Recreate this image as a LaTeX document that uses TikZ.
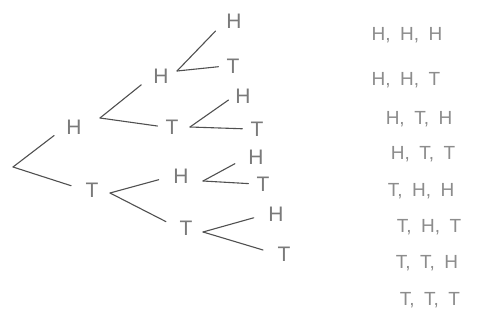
\documentclass[tikz,border=0pt]{standalone}
\usepackage{fontspec}
\setmainfont{Liberation Sans}
\usepackage{xcolor}
\usepackage{tikz}
\definecolor{pencildark}{RGB}{80, 80, 80}
\definecolor{pencilmid}{RGB}{122, 122, 122}
\definecolor{pencillight}{RGB}{140, 140, 140}
\tikzset{
  flip/.style={inner sep=1pt,text=pencilmid,font=\fontsize{21}{25}\selectfont},
  outc/.style={inner sep=1pt,text depth=0pt,text=pencillight,
               font=\fontsize{19}{23}\selectfont},
  branch/.style={draw=pencildark,line width=1.1pt,line cap=round,shorten >=14pt},
  near/.style={shorten >=7pt},
}

\begin{document}
\begin{tikzpicture}[x=1pt,y=-1pt]
        \useasboundingbox (0,0) rectangle (490,329);
        % forks
        \coordinate (root) at (13,167);
        \coordinate (fH)   at (100,118);
        \coordinate (fT)   at (110,193);
        \coordinate (fHH)  at (177,71);
        \coordinate (fHT)  at (190,127);
        \coordinate (fTH)  at (203,181);
        \coordinate (fTT)  at (203,232);
        % first flip
        \node[flip] (h) at (74,127) {H};
        \node[flip] (t) at (92,190) {T};
        % second flip
        \node[flip] (hh) at (161,76) {H};
        \node[flip] (ht) at (172,127) {T};
        \node[flip] (th) at (181,176) {H};
        \node[flip] (tt) at (186,228) {T};
        % third flip
        \node[flip] (hhh) at (234,21)  {H};
        \node[flip] (hht) at (233,66)  {T};
        \node[flip] (hth) at (243,96)  {H};
        \node[flip] (htt) at (257,129) {T};
        \node[flip] (thh) at (256,157) {H};
        \node[flip] (tht) at (263,184) {T};
        \node[flip] (tth) at (276,214) {H};
        \node[flip] (ttt) at (284,254) {T};
        \draw[branch](root)--(h.west);
        \draw[branch](root)--(t.west);
        \draw[branch](fH)--(hh.west);
        \draw[branch,near](fH)--(ht.west);
        \draw[branch](fT)--(th.west);
        \draw[branch](fT)--(tt.west);
        \draw[branch](fHH)--(hhh.west);
        \draw[branch,near](fHH)--(hht.west);
        \draw[branch,near](fHT)--(hth.west);
        \draw[branch,near](fHT)--(htt.west);
        \draw[branch](fTH)--(thh.west);
        \draw[branch,near](fTH)--(tht.west);
        \draw[branch](fTT)--(tth.west);
        \draw[branch](fTT)--(ttt.west);
        % outcomes
        \node[outc] (o1) at (407,34)  {H,\enspace H,\enspace H};
        \node[outc] (o2) at (406,79)  {H,\enspace H,\enspace T};
        \node[outc] (o3) at (419,118) {H,\enspace T,\enspace H};
        \node[outc] (o4) at (423,153) {H,\enspace T,\enspace T};
        \node[outc] (o5) at (421,190) {T,\enspace H,\enspace H};
        \node[outc] (o6) at (429,226) {T,\enspace H,\enspace T};
        \node[outc] (o7) at (427,262) {T,\enspace T,\enspace H};
        \node[outc] (o8) at (430,299) {T,\enspace T,\enspace T};
      \end{tikzpicture}
\end{document}
